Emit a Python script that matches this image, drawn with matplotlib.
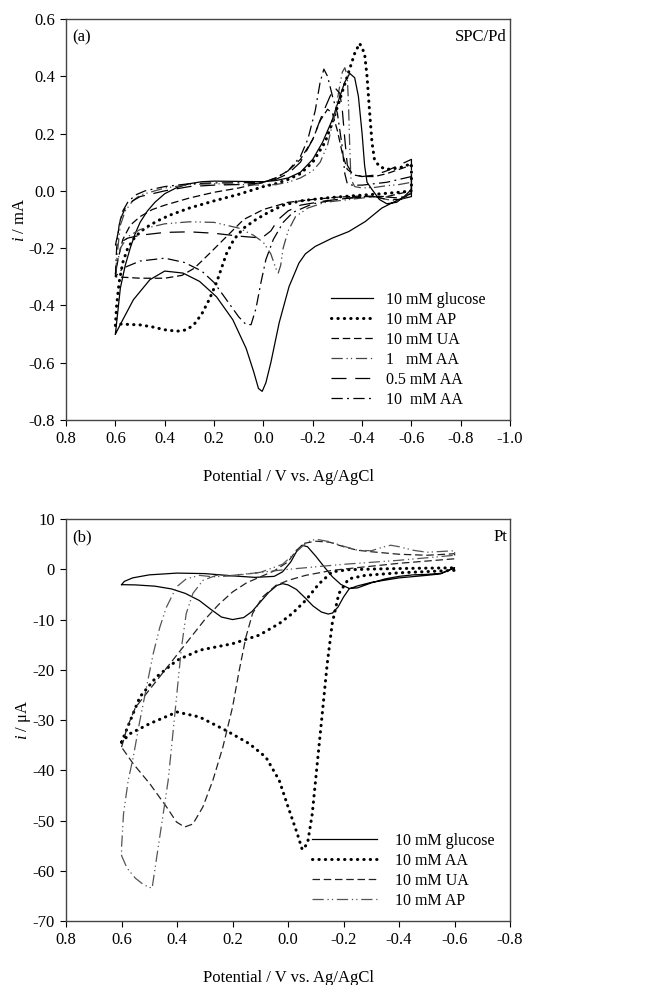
import numpy as np
import matplotlib
matplotlib.use("Agg")
import matplotlib.pyplot as plt

plt.rcParams['font.family'] = ['Liberation Serif', 'DejaVu Serif']
plt.rcParams['mathtext.fontset'] = 'custom'
plt.rcParams['mathtext.rm'] = 'Liberation Serif'
plt.rcParams['mathtext.it'] = 'Liberation Serif:italic'
plt.rcParams['axes.unicode_minus'] = False

# ---------------- panel (a): SPC/Pd, current in mA ----------------
# each curve is one closed CV loop: forward branch then return branch
a_glu_E = [0.60, 0.59, 0.58, 0.56, 0.54, 0.52, 0.50, 0.47, 0.44, 0.40, 0.35, 0.30, 0.25, 0.20, 0.10, 0.00,
           -0.05, -0.10, -0.15, -0.20, -0.24, -0.28, -0.31, -0.33, -0.35, -0.37, -0.385, -0.40, -0.41, -0.42,
           -0.44, -0.47, -0.50, -0.54, -0.57, -0.60,
           -0.60, -0.547, -0.48, -0.413, -0.346, -0.279, -0.21, -0.17, -0.144, -0.104, -0.064, -0.03, -0.01, 0.005,
           0.02, 0.04, 0.07, 0.124, 0.19, 0.259, 0.326, 0.40, 0.46, 0.527, 0.57, 0.60]
a_glu_i = [-0.50, -0.42, -0.34, -0.26, -0.20, -0.15, -0.11, -0.07, -0.04, -0.01, 0.012, 0.025, 0.032, 0.034, 0.033, 0.032,
           0.036, 0.045, 0.065, 0.11, 0.17, 0.25, 0.33, 0.38, 0.41, 0.395, 0.33, 0.20, 0.09, 0.03,
           0.005, -0.03, -0.045, -0.04, -0.02, 0.005,
           -0.02, -0.031, -0.06, -0.107, -0.142, -0.165, -0.194, -0.22, -0.252, -0.334, -0.46, -0.60, -0.67, -0.70,
           -0.69, -0.63, -0.55, -0.45, -0.37, -0.316, -0.287, -0.28, -0.31, -0.38, -0.45, -0.50]

a_ap_E = [0.60, 0.595, 0.585, 0.57, 0.55, 0.52, 0.48, 0.43, 0.38, 0.30, 0.20, 0.10, 0.00, -0.05, -0.10, -0.15,
          -0.20, -0.25, -0.28, -0.31, -0.34, -0.37, -0.39, -0.41, -0.42, -0.43, -0.44, -0.45, -0.47, -0.50,
          -0.55, -0.60,
          -0.60, -0.55, -0.45, -0.35, -0.25, -0.15, -0.08, -0.02, 0.03, 0.08, 0.12, 0.15, 0.17, 0.19, 0.22,
          0.25, 0.28, 0.31, 0.35, 0.40, 0.45, 0.50, 0.58, 0.60]
a_ap_i = [-0.47, -0.40, -0.32, -0.25, -0.20, -0.16, -0.13, -0.105, -0.085, -0.06, -0.035, -0.012, 0.015, 0.025, 0.04, 0.06,
          0.10, 0.17, 0.24, 0.32, 0.40, 0.48, 0.515, 0.48, 0.40, 0.28, 0.17, 0.11, 0.085, 0.075,
          0.08, 0.095,
          0.0, -0.005, -0.012, -0.018, -0.025, -0.035, -0.05, -0.075, -0.10, -0.13, -0.17, -0.22, -0.27, -0.32, -0.38,
          -0.43, -0.465, -0.485, -0.49, -0.485, -0.475, -0.468, -0.465, -0.47]

a_ua_E = [0.60, 0.59, 0.57, 0.54, 0.50, 0.45, 0.40, 0.30, 0.20, 0.10, 0.00, -0.05, -0.10, -0.15, -0.20, -0.23,
          -0.26, -0.28, -0.30, -0.32, -0.34, -0.37, -0.40, -0.45, -0.50, -0.55, -0.60,
          -0.60, -0.50, -0.40, -0.30, -0.20, -0.10, 0.00, 0.08, 0.15, 0.22, 0.28, 0.33, 0.40, 0.50, 0.60]
a_ua_i = [-0.30, -0.24, -0.17, -0.12, -0.09, -0.065, -0.05, -0.025, -0.005, 0.01, 0.03, 0.045, 0.07, 0.11, 0.18, 0.245,
          0.285, 0.27, 0.21, 0.13, 0.075, 0.055, 0.05, 0.05, 0.06, 0.075, 0.09,
          0.0, -0.02, -0.018, -0.022, -0.03, -0.04, -0.065, -0.10, -0.16, -0.22, -0.27, -0.295, -0.305, -0.305, -0.30]

a_aa1_E = [0.60, 0.59, 0.58, 0.56, 0.53, 0.50, 0.40, 0.30, 0.20, 0.10, 0.00, -0.05, -0.10, -0.15, -0.20, -0.23,
           -0.26, -0.29, -0.31, -0.32, -0.33, -0.34, -0.345, -0.35, -0.355, -0.37, -0.40, -0.45, -0.50, -0.55, -0.60,
           -0.60, -0.55, -0.50, -0.45, -0.35, -0.25, -0.18, -0.13, -0.10, -0.08, -0.07, -0.06, -0.05, -0.03, 0.00,
           0.04, 0.10, 0.20, 0.30, 0.40, 0.50, 0.55, 0.58, 0.60]
a_aa1_i = [-0.29, -0.20, -0.12, -0.07, -0.035, -0.015, 0.01, 0.022, 0.025, 0.022, 0.02, 0.022, 0.03, 0.045, 0.07, 0.10,
           0.16, 0.27, 0.37, 0.415, 0.43, 0.40, 0.30, 0.15, 0.04, 0.015, 0.01, 0.012, 0.018, 0.022, 0.03,
           -0.005, -0.035, -0.03, -0.02, -0.03, -0.04, -0.06, -0.09, -0.14, -0.20, -0.26, -0.287, -0.27, -0.22, -0.18,
           -0.155, -0.13, -0.11, -0.108, -0.115, -0.135, -0.16, -0.20, -0.29]

a_aa05_E = [0.60, 0.59, 0.58, 0.56, 0.53, 0.50, 0.40, 0.30, 0.20, 0.10, 0.00, -0.05, -0.10, -0.15, -0.20, -0.24,
            -0.27, -0.29, -0.31, -0.32, -0.33, -0.34, -0.36, -0.40, -0.45, -0.50, -0.55, -0.60,
            -0.60, -0.55, -0.50, -0.45, -0.35, -0.25, -0.15, -0.10, -0.06, -0.03, 0.00, 0.03, 0.10, 0.20, 0.30,
            0.40, 0.50, 0.55, 0.60]
a_aa05_i = [-0.19, -0.15, -0.10, -0.06, -0.035, -0.02, 0.0, 0.015, 0.02, 0.022, 0.028, 0.04, 0.06, 0.10, 0.18, 0.27,
            0.33, 0.36, 0.34, 0.28, 0.18, 0.09, 0.06, 0.05, 0.055, 0.07, 0.09, 0.11,
            -0.01, -0.03, -0.03, -0.02, -0.025, -0.035, -0.05, -0.07, -0.10, -0.14, -0.16, -0.163, -0.158, -0.148, -0.143,
            -0.145, -0.155, -0.165, -0.19]

a_aa10_E = [0.60, 0.595, 0.585, 0.57, 0.55, 0.52, 0.48, 0.40, 0.30, 0.20, 0.10, 0.00, -0.05, -0.10, -0.15, -0.18,
            -0.21, -0.23, -0.245, -0.26, -0.28, -0.30, -0.32, -0.33, -0.34, -0.36, -0.40, -0.50, -0.60,
            -0.60, -0.55, -0.48, -0.40, -0.30, -0.20, -0.12, -0.08, -0.04, -0.01, 0.01, 0.03, 0.05, 0.07, 0.10,
            0.15, 0.20, 0.25, 0.32, 0.40, 0.50, 0.57, 0.60]
a_aa10_i = [-0.30, -0.20, -0.12, -0.07, -0.04, -0.015, 0.0, 0.015, 0.025, 0.028, 0.028, 0.03, 0.045, 0.07, 0.12, 0.18,
            0.28, 0.38, 0.425, 0.40, 0.33, 0.27, 0.15, 0.06, 0.025, 0.02, 0.02, 0.03, 0.05,
            -0.01, -0.025, -0.02, -0.02, -0.03, -0.045, -0.075, -0.11, -0.17, -0.24, -0.32, -0.41, -0.467, -0.467, -0.44,
            -0.38, -0.32, -0.28, -0.25, -0.235, -0.245, -0.27, -0.30]

# ---------------- panel (b): Pt, current in uA ----------------
b_glu_E = [0.60, 0.59, 0.56, 0.50, 0.40, 0.30, 0.20, 0.12, 0.05, 0.02, -0.01, -0.03, -0.05, -0.07, -0.10, -0.13,
           -0.16, -0.19, -0.22, -0.25, -0.30, -0.35, -0.40, -0.45, -0.50, -0.55, -0.60,
           -0.60, -0.55, -0.50, -0.40, -0.30, -0.25, -0.22, -0.20, -0.18, -0.16, -0.145, -0.12, -0.09, -0.06, -0.03,
           0.00, 0.02, 0.04, 0.07, 0.10, 0.13, 0.16, 0.20, 0.24, 0.28, 0.32, 0.37, 0.42, 0.48, 0.55, 0.60]
b_glu_i = [-3.05, -2.4, -1.7, -1.1, -0.75, -0.85, -1.3, -1.6, -1.4, -0.5, 1.5, 3.5, 4.8, 4.5, 2.6, 0.5,
           -1.5, -3.0, -3.8, -3.7, -2.7, -1.9, -1.4, -1.1, -1.0, -0.8, 0.3,
           0.3, -0.9, -1.2, -1.7, -2.6, -3.3, -3.9, -5.5, -7.5, -8.7, -8.9, -8.5, -7.3, -5.6, -4.0,
           -3.1, -2.85, -3.2, -4.6, -6.5, -8.4, -9.6, -10.0, -9.5, -7.9, -6.2, -4.8, -3.9, -3.35, -3.1, -3.05]

b_aa_E = [0.60, 0.578, 0.534, 0.474, 0.40, 0.319, 0.20, 0.104, 0.032, -0.015, -0.063, -0.111, -0.159, -0.218,
          -0.338, -0.45, -0.60,
          -0.60, -0.398, -0.278, -0.218, -0.183, -0.159, -0.141, -0.123, -0.105, -0.087, -0.07, -0.051, -0.033,
          0.0, 0.032, 0.08, 0.14, 0.223, 0.319, 0.40, 0.498, 0.569, 0.60]
b_aa_i = [-34.4, -31.4, -25.4, -21.4, -18.1, -16.1, -14.8, -13.1, -10.8, -8.8, -6.2, -2.9, -0.5, -0.07,
          0.1, 0.2, 0.3,
          -0.2, -0.7, -1.2, -1.9, -4.8, -10.8, -18.8, -28.8, -38.7, -48.7, -54.6, -55.8, -52.6,
          -47.3, -42.0, -37.4, -34.7, -32.1, -29.4, -28.4, -30.7, -32.7, -34.4]

b_ua_E = [0.60, 0.58, 0.55, 0.50, 0.45, 0.40, 0.35, 0.30, 0.25, 0.20, 0.15, 0.10, 0.05, 0.00, -0.03, -0.06,
          -0.10, -0.15, -0.20, -0.25, -0.30, -0.40, -0.50, -0.60,
          -0.60, -0.40, -0.278, -0.159, -0.063, 0.0, 0.044, 0.092, 0.128, 0.152, 0.176, 0.20, 0.235, 0.271,
          0.307, 0.343, 0.373, 0.402, 0.438, 0.498, 0.558, 0.60]
b_ua_i = [-35.4, -31.5, -27.5, -24.0, -20.5, -17.0, -13.5, -10.0, -7.0, -4.5, -2.7, -1.5, -0.3, 1.5, 3.8, 5.2,
          5.6, 5.4, 4.5, 3.8, 3.5, 3.0, 2.8, 3.1,
          2.1, 1.2, 0.5, -0.2, -1.2, -2.2, -3.2, -5.5, -8.8, -13.5, -20.1, -27.4, -35.4, -42.0,
          -47.3, -50.7, -51.3, -50.3, -47.3, -42.7, -38.7, -35.4]

b_ap_E = [0.60, 0.58, 0.55, 0.52, 0.49, 0.468, 0.45, 0.432, 0.42, 0.408, 0.396, 0.384, 0.367, 0.343, 0.307,
          0.259, 0.20, 0.10, 0.02, -0.03, -0.07, -0.10, -0.15, -0.20, -0.25, -0.30, -0.34, -0.37, -0.40,
          -0.45, -0.50, -0.60,
          -0.60, -0.50, -0.40, -0.30, -0.20, -0.10, 0.00, 0.10, 0.20, 0.27, 0.319, 0.367, 0.402, 0.438,
          0.462, 0.486, 0.51, 0.534, 0.558, 0.576, 0.593, 0.60, 0.60]
b_ap_i = [-57.0, -59.5, -61.5, -62.8, -63.5, -55.3, -48.7, -42.0, -35.4, -28.8, -22.1, -15.5, -8.8, -4.8, -2.2,
          -1.2, -1.2, -0.6, 1.0, 3.5, 5.5, 6.0, 5.5, 4.6, 3.8, 3.7, 4.4, 4.8, 4.5,
          3.8, 3.4, 3.7,
          2.8, 2.3, 1.8, 1.4, 1.0, 0.5, 0.0, -0.6, -1.3, -1.5, -1.2, -1.9, -3.5, -7.5,
          -11.5, -16.8, -23.4, -30.1, -37.4, -42.0, -48.7, -55.3, -57.0]

a_labels = ["10 mM glucose", "10 mM AP", "10 mM UA", "1   mM AA", "0.5 mM AA", "10  mM AA"]
b_labels = ["10 mM glucose", "10 mM AA", "10 mM UA", "10 mM AP"]

a_xticks = [0.8, 0.6, 0.4, 0.2, 0.0, -0.2, -0.4, -0.6, -0.8, -1.0]
a_yticks = [0.6, 0.4, 0.2, 0.0, -0.2, -0.4, -0.6, -0.8]
b_xticks = [0.8, 0.6, 0.4, 0.2, 0.0, -0.2, -0.4, -0.6, -0.8]
b_yticks = [10, 0, -10, -20, -30, -40, -50, -60, -70]

solid = dict(color='black', lw=0.9, ls='-')
dots = dict(color='black', lw=2.2, ls=(0, (0.1, 2.0)), dash_capstyle='round')
dash = dict(color='black', lw=0.9, ls=(0, (6, 3)))
dashdotdot = dict(color='#444444', lw=0.9, ls=(0, (9, 3, 1, 2.5, 1, 3)))
longdash = dict(color='black', lw=0.9, ls=(0, (12, 7)))
dashdot = dict(color='black', lw=0.9, ls=(0, (9, 3.5, 1.5, 3.5)))
b_dash = dict(color='#222222', lw=0.9, ls=(0, (6, 3)))
b_dashdotdot = dict(color='#555555', lw=0.9, ls=(0, (9, 3, 1, 2.5, 1, 3)))

fig = plt.figure(figsize=(6.54, 9.85), dpi=100)
ax1 = fig.add_axes([0.101, 0.5736, 0.679, 0.4071])
ax2 = fig.add_axes([0.101, 0.065, 0.679, 0.408])

ax1.plot(a_glu_E, a_glu_i, label=a_labels[0], **solid)
ax1.plot(a_ap_E, a_ap_i, label=a_labels[1], **dots)
ax1.plot(a_ua_E, a_ua_i, label=a_labels[2], **dash)
ax1.plot(a_aa1_E, a_aa1_i, label=a_labels[3], **dashdotdot)
ax1.plot(a_aa05_E, a_aa05_i, label=a_labels[4], **longdash)
ax1.plot(a_aa10_E, a_aa10_i, label=a_labels[5], **dashdot)

ax2.plot(b_glu_E, b_glu_i, label=b_labels[0], **solid)
ax2.plot(b_aa_E, b_aa_i, label=b_labels[1], **dots)
ax2.plot(b_ua_E, b_ua_i, label=b_labels[2], **b_dash)
ax2.plot(b_ap_E, b_ap_i, label=b_labels[3], **b_dashdotdot)

for ax, xt, yt in [(ax1, a_xticks, a_yticks), (ax2, b_xticks, b_yticks)]:
    ax.set_xlim(xt[0], xt[-1])
    ax.set_ylim(yt[-1], yt[0])
    ax.set_xticks(xt)
    ax.set_yticks(yt)
    ax.tick_params(direction='out', length=4, width=0.8, labelsize=12, pad=4, top=False, right=False)
    for sp in ax.spines.values():
        sp.set_color('#444444')
        sp.set_linewidth(1.0)
    ax.set_xlabel("Potential / V vs. Ag/AgCl", fontsize=12, labelpad=16)

ax1.set_xticklabels(["%.1f" % v for v in a_xticks])
ax1.set_yticklabels(["%.1f" % v for v in a_yticks])
ax2.set_xticklabels(["%.1f" % v for v in b_xticks])
ax2.set_yticklabels(["%d" % v for v in b_yticks])

ax1.set_ylabel(r"$\it{i}$ / mA", fontsize=12, labelpad=0)
ax2.set_ylabel(r"$\it{i}$ / μA", fontsize=12, labelpad=0)

ax1.text(0.015, 0.975, "(a)", transform=ax1.transAxes, ha='left', va='top', fontsize=12)
ax1.text(0.993, 0.975, "SPC/Pd", transform=ax1.transAxes, ha='right', va='top', fontsize=12)
ax2.text(0.015, 0.975, "(b)", transform=ax2.transAxes, ha='left', va='top', fontsize=12)
ax2.text(0.993, 0.975, "Pt", transform=ax2.transAxes, ha='right', va='top', fontsize=12)

ax1.legend(loc='lower left', bbox_to_anchor=(0.597, 0.03), frameon=False, fontsize=11.5,
           handlelength=2.6, handletextpad=0.85, labelspacing=0.25, borderpad=0, borderaxespad=0)
ax2.legend(loc='lower left', bbox_to_anchor=(0.553, 0.03), frameon=False, fontsize=11.5,
           handlelength=4.1, handletextpad=1.1, labelspacing=0.25, borderpad=0, borderaxespad=0)

fig.savefig("out.png", dpi=100)
